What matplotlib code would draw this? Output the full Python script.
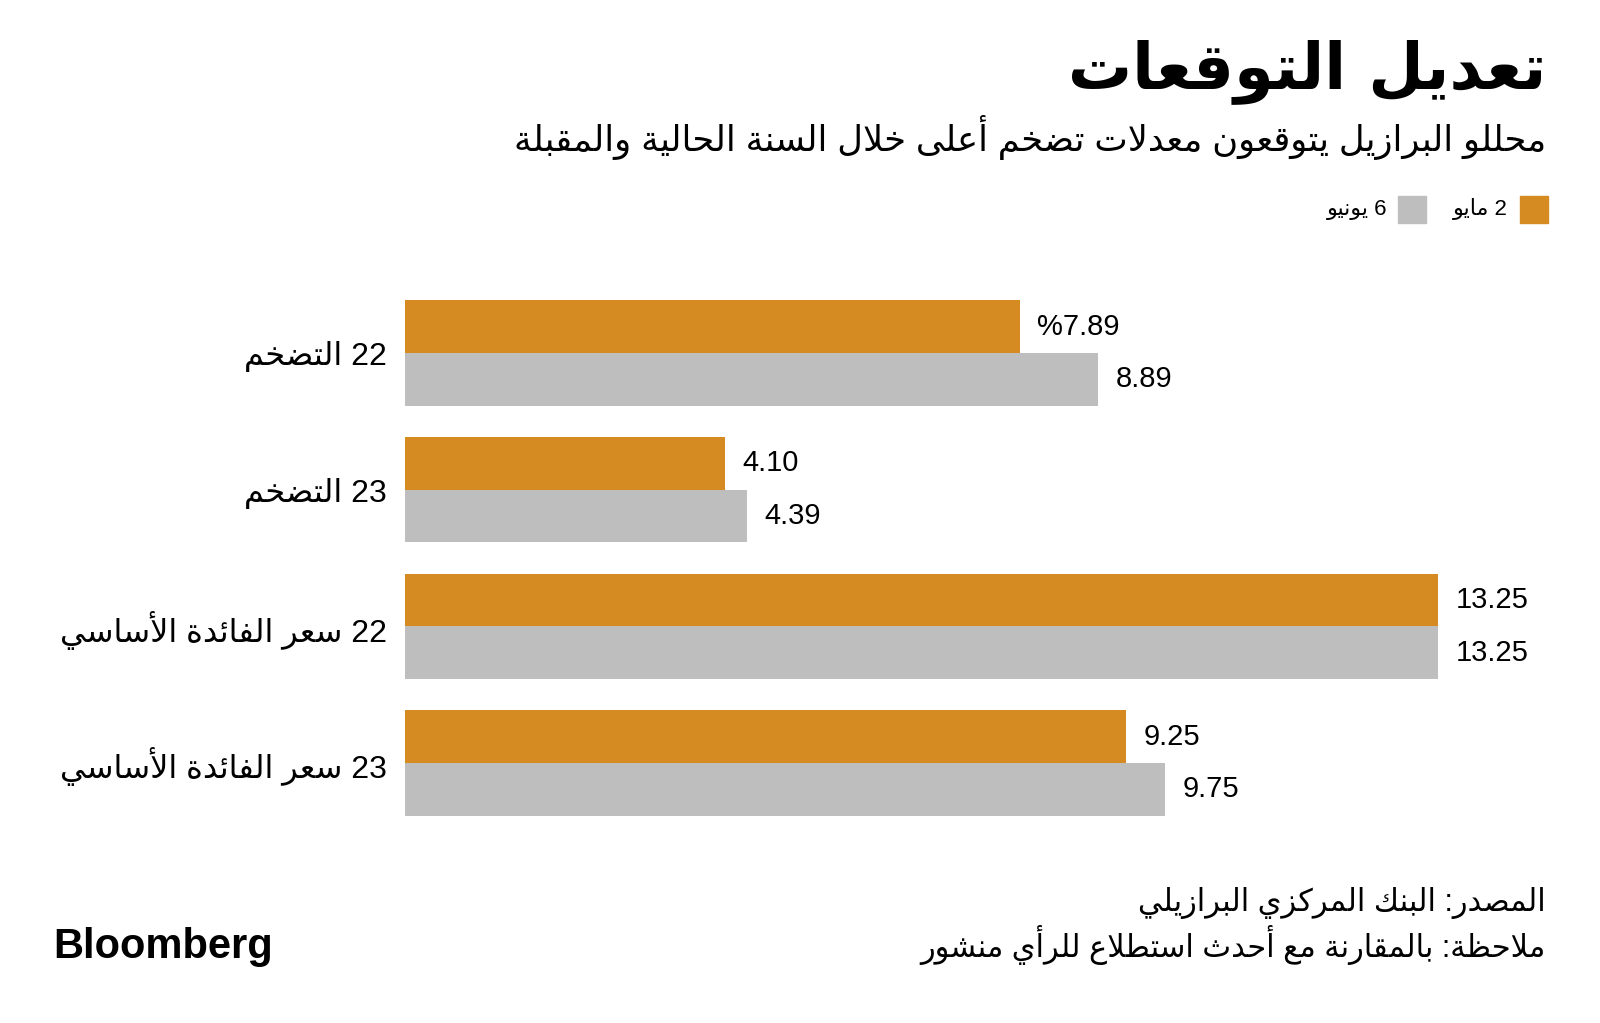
import re
import matplotlib.pyplot as plt

# --- data -------------------------------------------------------------
categories = ['22 التضخم', '23 التضخم', '22 سعر الفائدة الأساسي', '23 سعر الفائدة الأساسي']
may2 = [7.89, 4.10, 13.25, 9.25]
jun6 = [8.89, 4.39, 13.25, 9.75]
series_names = ['2 مايو', '6 يونيو']
title = 'تعديل التوقعات'
subtitle = 'محللو البرازيل يتوقعون معدلات تضخم أعلى خلال السنة الحالية والمقبلة'
source = 'المصدر: البنك المركزي البرازيلي'
note = 'ملاحظة: بالمقارنة مع أحدث استطلاع للرأي منشور'

orange = '#D58B22'
grey = '#BEBEBE'

# --- tiny arabic shaper (no raqm in matplotlib) -----------------------
DUAL = {'ئ': 0xFE89, 'ب': 0xFE8F, 'ت': 0xFE95, 'ث': 0xFE99, 'ج': 0xFE9D, 'ح': 0xFEA1,
        'خ': 0xFEA5, 'س': 0xFEB1, 'ش': 0xFEB5, 'ص': 0xFEB9, 'ض': 0xFEBD, 'ط': 0xFEC1,
        'ظ': 0xFEC5, 'ع': 0xFEC9, 'غ': 0xFECD, 'ف': 0xFED1, 'ق': 0xFED5, 'ك': 0xFED9,
        'ل': 0xFEDD, 'م': 0xFEE1, 'ن': 0xFEE5, 'ه': 0xFEE9, 'ي': 0xFEF1}
RIGHT = {'آ': 0xFE81, 'أ': 0xFE83, 'ؤ': 0xFE85, 'إ': 0xFE87, 'ا': 0xFE8D, 'ة': 0xFE93,
         'د': 0xFEA9, 'ذ': 0xFEAB, 'ر': 0xFEAD, 'ز': 0xFEAF, 'و': 0xFEED, 'ى': 0xFEEF}
LAMALEF = {'آ': 0xFEF5, 'أ': 0xFEF7, 'إ': 0xFEF9, 'ا': 0xFEFB}


def shape(text):
    toks = []
    i = 0
    while i < len(text):
        c = text[i]
        if c == 'ل' and i + 1 < len(text) and text[i + 1] in LAMALEF:
            toks.append(('LA', text[i + 1]))
            i += 2
        else:
            toks.append((c, None))
            i += 1
    out = []
    for k, (c, a) in enumerate(toks):
        prev = toks[k - 1][0] if k > 0 else None
        nxt = toks[k + 1][0] if k + 1 < len(toks) else None
        pj = prev in DUAL
        nj = nxt is not None and (nxt in DUAL or nxt in RIGHT or nxt == 'LA')
        if c == 'LA':
            out.append(chr(LAMALEF[a] + (1 if pj else 0)))
        elif c in DUAL:
            out.append(chr(DUAL[c] + {(False, False): 0, (True, False): 1,
                                      (False, True): 2, (True, True): 3}[(pj, nj)]))
        elif c in RIGHT:
            out.append(chr(RIGHT[c] + (1 if pj else 0)))
        elif c == 'ء':
            out.append(chr(0xFE80))
        else:
            out.append(c)
    return ''.join(out)


def ar(text):
    s = shape(text)[::-1]
    return re.sub(r'[0-9][0-9.,%]*', lambda m: m.group(0)[::-1], s)


fam = ['Liberation Sans', 'DejaVu Sans']
plt.rcParams['font.family'] = fam

fig = plt.figure(figsize=(16, 10.23), dpi=100)
W, H = 1600, 1023
ax = fig.add_axes([405 / W, 1 - 845 / H, (1438 - 405) / W, (845 - 271) / H])

ypos = list(range(len(categories)))
h = 0.385
b1 = ax.barh([y - h / 2 for y in ypos], may2, height=h, color=orange, linewidth=0)
b2 = ax.barh([y + h / 2 for y in ypos], jun6, height=h, color=grey, linewidth=0)

for i, (v1, v2) in enumerate(zip(may2, jun6)):
    lab1 = '%{:.2f}'.format(v1) if i == 0 else '{:.2f}'.format(v1)
    ax.annotate(lab1, (v1, i - h / 2), xytext=(12.5, 0), textcoords='offset points',
                va='center', ha='left', fontsize=21, annotation_clip=False)
    ax.annotate('{:.2f}'.format(v2), (v2, i + h / 2), xytext=(12.5, 0), textcoords='offset points',
                va='center', ha='left', fontsize=21, annotation_clip=False)

ax.set_xlim(0, 13.25)
ax.set_ylim(3.6, -0.6)
ax.set_yticks(ypos, [ar(c) for c in categories], fontsize=23)
ax.tick_params(axis='y', length=0, pad=13)
ax.set_xticks([])
for s in ax.spines.values():
    s.set_visible(False)

# titles
fig.text(1546 / W, 1 - 72 / H, ar(title), ha='right', va='center', fontsize=46,
         fontweight='bold', family=['DejaVu Sans'])
fig.text(1546 / W, 1 - 137 / H, ar(subtitle), ha='right', va='center', fontsize=25.5)

# legend
leg = fig.add_axes([0, 0, 1, 1], facecolor='none')
leg.set_xlim(0, W)
leg.set_ylim(H, 0)
leg.axis('off')
leg.add_patch(plt.Rectangle((1520, 196), 28, 27, color=orange))
leg.add_patch(plt.Rectangle((1398, 196), 28, 27, color=grey))
leg.text(1508, 209, ar(series_names[0]), ha='right', va='center', fontsize=16)
leg.text(1387, 209, ar(series_names[1]), ha='right', va='center', fontsize=16)

# footer
fig.text(1546 / W, 1 - 903 / H, ar(source), ha='right', va='center', fontsize=22)
fig.text(1546 / W, 1 - 945 / H, ar(note), ha='right', va='center', fontsize=22)
fig.text(53 / W, 1 - 947 / H, 'Bloomberg', ha='left', va='center', fontsize=30,
         fontweight='bold', family=['Liberation Sans'])

fig.savefig('out.png', dpi=100, facecolor='white')
